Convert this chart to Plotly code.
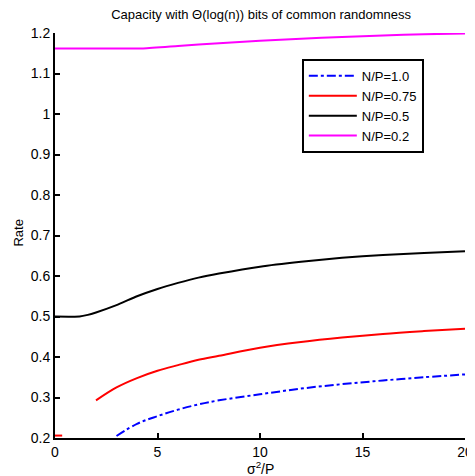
import plotly.graph_objects as go

# N/P = 1.0 (blue, dash-dot)
x_np10 = [3, 4, 5, 6, 7, 8, 10, 12, 14, 16, 18, 20]
y_np10 = [0.205, 0.235, 0.254, 0.270, 0.283, 0.293, 0.308, 0.322, 0.333, 0.342, 0.350, 0.357]

# N/P = 0.75 (red) main branch and short piece near origin
x_np075 = [2, 3, 4, 5, 6, 7, 8, 10, 12, 14, 16, 18, 20]
y_np075 = [0.293, 0.325, 0.348, 0.366, 0.380, 0.393, 0.403, 0.423, 0.437, 0.448, 0.457, 0.464, 0.470]
x_np075_b = [0, 0.35]
y_np075_b = [0.206, 0.206]

# N/P = 0.5 (black)
x_np05 = [0, 1.2, 1.6, 2, 3, 4, 5, 6, 7, 8, 10, 12, 14, 16, 18, 20]
y_np05 = [0.5, 0.5, 0.504, 0.51, 0.528, 0.550, 0.568, 0.583, 0.596, 0.606, 0.623, 0.635, 0.645, 0.652, 0.657, 0.661]

# N/P = 0.2 (magenta)
x_np02 = [0, 4.3, 6, 8, 10, 12, 14, 16, 18, 20]
y_np02 = [1.162, 1.162, 1.168, 1.175, 1.181, 1.186, 1.190, 1.194, 1.197, 1.199]

x_ticks = [0, 5, 10, 15, 20]
y_ticks = [0.2, 0.3, 0.4, 0.5, 0.6, 0.7, 0.8, 0.9, 1.0, 1.1, 1.2]
y_tick_labels = ["0.2", "0.3", "0.4", "0.5", "0.6", "0.7", "0.8", "0.9", "1", "1.1", "1.2"]

FONT = "Liberation Sans, Arial, Helvetica, sans-serif"

fig = go.Figure()
fig.add_trace(go.Scatter(x=x_np10, y=y_np10, mode="lines", name="N/P=1.0",
                         line=dict(color="#0000ff", width=2, dash="dashdot", shape="spline")))
fig.add_trace(go.Scatter(x=x_np075, y=y_np075, mode="lines", name="N/P=0.75",
                         line=dict(color="#ff0000", width=2, shape="spline")))
fig.add_trace(go.Scatter(x=x_np05, y=y_np05, mode="lines", name="N/P=0.5",
                         line=dict(color="#000000", width=2, shape="spline", smoothing=0.5)))
fig.add_trace(go.Scatter(x=x_np02, y=y_np02, mode="lines", name="N/P=0.2",
                         line=dict(color="#ff00ff", width=2, shape="spline", smoothing=0.5)))
fig.add_trace(go.Scatter(x=x_np075_b, y=y_np075_b, mode="lines", showlegend=False,
                         line=dict(color="#ff0000", width=2)))

fig.update_layout(
    width=467, height=468,
    margin=dict(l=46.5, r=10, t=25, b=38, autoexpand=False),
    paper_bgcolor="white", plot_bgcolor="white",
    font=dict(family=FONT, size=14, color="black"),
    title=dict(text="Capacity with Θ(log(n)) bits of common randomness",
               x=0.542, xanchor="center", y=0.987, yanchor="middle",
               font=dict(size=13, family=FONT, color="black")),
    showlegend=True,
    legend=dict(x=0.602, y=0.936, xanchor="left", yanchor="top",
                bgcolor="white", bordercolor="black", borderwidth=2,
                font=dict(size=13, family=FONT, color="black"),
                tracegroupgap=0, itemwidth=48),
    annotations=[
        dict(text="σ<sup>2</sup>/P", xref="paper", yref="paper", x=0.5, y=-0.074,
             xanchor="center", yanchor="middle", showarrow=False,
             font=dict(size=14, family=FONT, color="black")),
        dict(text="Rate", xref="paper", yref="paper", x=-0.089, y=0.506,
             xanchor="center", yanchor="middle", showarrow=False, textangle=-90,
             font=dict(size=13, family=FONT, color="black")),
    ],
)
fig.update_xaxes(range=[0, 20], tickvals=x_ticks, ticks="inside", ticklen=5, tickwidth=2,
                 tickcolor="black", showline=True, linecolor="black", linewidth=2,
                 showgrid=False, zeroline=False, automargin=False)
fig.update_yaxes(range=[0.2, 1.2], tickvals=y_ticks, ticktext=y_tick_labels, ticks="inside",
                 ticklen=5, tickwidth=2, tickcolor="black", showline=True, linecolor="black",
                 linewidth=2, showgrid=False, zeroline=False, automargin=False)

fig.write_html("out.html")
